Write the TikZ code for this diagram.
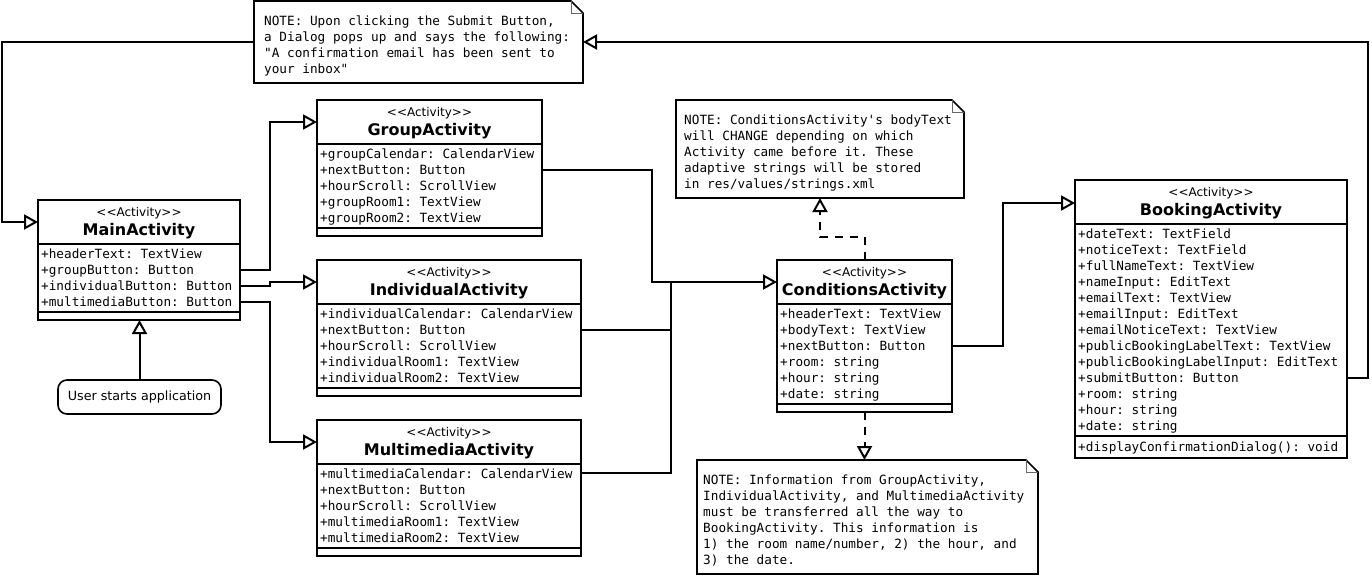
\documentclass[tikz,border=0pt]{standalone}
\usepackage{fontspec}
\setmainfont{DejaVu Sans}
\setsansfont{DejaVu Sans}
\setmonofont{DejaVu Sans Mono}
\usetikzlibrary{arrows.meta,positioning,calc}
\tikzset{
  umlbox/.style={draw,line width=2pt,fill=white,inner sep=0pt,outer sep=0pt,anchor=north west},
  stereo/.style={font=\sffamily\fontsize{12}{14}\selectfont,anchor=base,inner sep=0pt},
  classname/.style={font=\sffamily\bfseries\fontsize{16}{18}\selectfont,anchor=base,inner sep=0pt},
  attr/.style={font=\ttfamily\fontsize{12.7}{16}\selectfont,anchor=base west,inner sep=0pt},
  notebox/.style={inner sep=0pt,outer sep=0pt,anchor=north west},
  notetext/.style={font=\ttfamily\fontsize{12.7}{16}\selectfont,align=left,anchor=north west,inner sep=0pt},
  noteline/.style={line width=1.6pt,fill=white},
  foldline/.style={line width=0.8pt,draw=black!60},
  startbox/.style={draw,line width=1.6pt,rounded corners=9pt,minimum width=163pt,minimum height=34pt,outer sep=0pt,font=\sffamily\fontsize{12.7}{15}\selectfont},
  gen/.style={-{Triangle[open,length=14pt,width=15pt]},line width=2pt},
  dashdep/.style={gen,dash pattern=on 8pt off 7pt}
}
\newcommand\foldnote[1]{%
  \draw[noteline] (#1.north west) -- ($(#1.north east)+(-12,0)$) -- ($(#1.north east)+(0,12)$) -- (#1.south east) -- (#1.south west) -- cycle;
  \draw[foldline] ($(#1.north east)+(-12,0)$) -- ++(0,12) -- ($(#1.north east)+(0,12)$);}
\newcommand\activitystereo{<\kern0pt<Activity>\kern0pt>}
\begin{document}
\begin{tikzpicture}[x=1pt,y=-1pt]
  \fill[white] (0,0) rectangle (1372,576);
  \useasboundingbox (0,0) rectangle (1372,576);

  % classes: name / left / top / width / height / divider / title / attributes
  \foreach \nm/\x/\y/\w/\h/\dv/\ttl/\attrs in {
    main/38/200/202/120/112/MainActivity/{+headerText: TextView,+groupButton: Button,+individualButton: Button,+multimediaButton: Button},
    group/317/100/225/136/128/GroupActivity/{+groupCalendar: CalendarView,+nextButton: Button,+hourScroll: ScrollView,+groupRoom1: TextView,+groupRoom2: TextView},
    individual/317/260/264/136/128/IndividualActivity/{+individualCalendar: CalendarView,+nextButton: Button,+hourScroll: ScrollView,+individualRoom1: TextView,+individualRoom2: TextView},
    multimedia/317/420/264/136/128/MultimediaActivity/{+multimediaCalendar: CalendarView,+nextButton: Button,+hourScroll: ScrollView,+multimediaRoom1: TextView,+multimediaRoom2: TextView},
    conditions/777/260/175/152/144/ConditionsActivity/{+headerText: TextView,+bodyText: TextView,+nextButton: Button,+room: string,+hour: string,+date: string},
    booking/1075/180/272/278/256/BookingActivity/{+dateText: TextField,+noticeText: TextField,+fullNameText: TextView,+nameInput: EditText,+emailText: TextView,+emailInput: EditText,+emailNoticeText: TextView,+publicBookingLabelText: TextView,+publicBookingLabelInput: EditText,+submitButton: Button,+room: string,+hour: string,+date: string}}{
    \node[umlbox,minimum width=\w pt,minimum height=\h pt] (\nm) at (\x,\y) {};
    \node[stereo] (\nm-st) at ($(\nm.north)+(0,16)$) {\activitystereo};
    \node[classname] (\nm-tt) at ($(\nm.north)+(0,35)$) {\ttl};
    \draw[line width=2pt] ($(\nm.north west)+(0,44)$) -- ($(\nm.north east)+(0,44)$);
    \draw[line width=2pt] ($(\nm.north west)+(0,\dv)$) -- ($(\nm.north east)+(0,\dv)$);
    \foreach \a [count=\i] in \attrs {\node[attr] (\nm-a\i) at ($(\nm.north west)+(3,{42+16*\i})$) {\a};}
  }
  \node[attr] (booking-m1) at ($(booking.north west)+(3,271)$) {+displayConfirmationDialog(): void};

  % notes
  \node[notebox,minimum width=329pt,minimum height=82pt] (dialognote) at (254,1) {};
  \foldnote{dialognote}
  \node[notetext] (dialognote-t) at ($(dialognote.north west)+(10,15)$) {NOTE: Upon clicking the Submit Button,\\a Dialog pops up and says the following:\\"A confirmation email has been sent to\\your inbox"};
  \node[notebox,minimum width=288pt,minimum height=98pt] (condnote) at (676,100) {};
  \foldnote{condnote}
  \node[notetext] (condnote-t) at ($(condnote.north west)+(8,15)$) {NOTE: ConditionsActivity's bodyText\\will CHANGE depending on which\\Activity came before it. These\\adaptive strings will be stored\\in res/values/strings.xml};
  \node[notebox,minimum width=341pt,minimum height=114pt] (infonote) at (697,460) {};
  \foldnote{infonote}
  \node[notetext] (infonote-t) at ($(infonote.north west)+(6,15)$) {NOTE: Information from GroupActivity,\\IndividualActivity, and MultimediaActivity\\must be transferred all the way to\\BookingActivity. This information is\\1) the room name/number, 2) the hour, and\\3) the date.};

  \node[startbox] (start) at (139.5,397) {User starts application};

  % connectors
  \draw[gen] (start.north) -- (start.north |- main.south);
  \draw[gen] ($(main.north east)+(0,70)$) -| ($(group.north west)+(-47,22)$) -- ($(group.north west)+(0,22)$);
  \draw[gen] ($(main.north east)+(0,86)$) -- ++(30,0) |- ($(individual.north west)+(0,22)$);
  \draw[gen] ($(main.north east)+(0,102)$) -- ++(30,0) |- ($(multimedia.north west)+(0,22)$);
  \coordinate (join) at ($(conditions.north west)+(-106,22)$);
  \draw[line width=2pt] ($(group.north east)+(0,70)$) -| ($(join)+(-19,0)$) -- (join);
  \draw[line width=2pt] ($(individual.north east)+(0,70)$) -| (join);
  \draw[line width=2pt] ($(multimedia.north east)+(0,53)$) -| (join);
  \draw[gen] (join) -- ($(conditions.north west)+(0,22)$);
  \draw[dashdep] (conditions.north) |- ($(condnote.south)+(0,39)$) -- (condnote.south);
  \draw[dashdep] (conditions.south) -- (conditions.south |- infonote.north);
  \draw[gen] ($(conditions.north east)+(0,86)$) -| ($(booking.north west)+(-72,23)$) -- ($(booking.north west)+(0,23)$);
  \draw[gen] ($(booking.north east)+(0,198)$) -- ++(21,0) |- (dialognote.east);
  \draw[gen] (dialognote.west) -| ($(main.north west)+(-36,22)$) -- ($(main.north west)+(0,22)$);
\end{tikzpicture}
\end{document}
